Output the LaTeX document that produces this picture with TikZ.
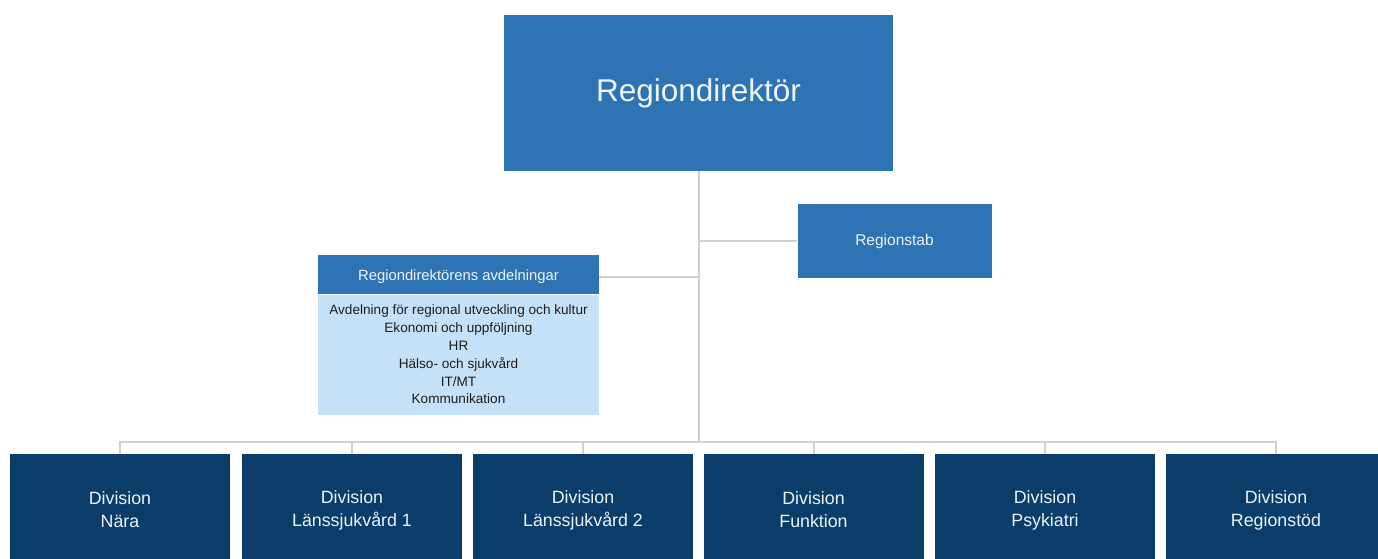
\documentclass[tikz,border=0pt]{standalone}
\usepackage{fontspec}
\setmainfont{Liberation Sans}
\definecolor{midblue}{HTML}{2E74B5}
\definecolor{lightblue}{HTML}{C5E1F7}
\definecolor{navy}{HTML}{0B3D6B}
\definecolor{linegray}{HTML}{CDD2DA}
\definecolor{darktext}{HTML}{1E1E1E}
\definecolor{softwhite}{HTML}{EEF3F8}
\tikzset{
  topbox/.style={fill=midblue, draw=none, text=softwhite, minimum width=389pt, minimum height=156pt, inner sep=0pt, font=\fontsize{31.5}{36}\selectfont},
  stabbox/.style={fill=midblue, draw=none, text=softwhite, minimum width=194pt, minimum height=74pt, inner sep=0pt, font=\fontsize{15.5}{18}\selectfont},
  hdrbox/.style={fill=midblue, draw=none, text=softwhite, minimum width=281pt, minimum height=39pt, inner sep=0pt, text height=1.2em, text depth=0.1em, font=\fontsize{14.8}{17}\selectfont},
  listbox/.style={fill=lightblue, draw=none, text=darktext, minimum width=281pt, minimum height=120pt, inner sep=0pt, align=center, font=\fontsize{13.6}{17.8}\selectfont},
  divbox/.style={fill=navy, draw=none, text=softwhite, minimum width=220pt, minimum height=112pt, inner sep=0pt, align=center, font=\fontsize{17.8}{23}\selectfont},
  conn/.style={draw=linegray, line width=2pt},
}
\begin{document}
\begin{tikzpicture}[x=1pt,y=-1pt]
\clip (0,0) rectangle (1378,558);
\fill[white] (0,0) rectangle (1378,558);

\node[topbox] (top) at (698.5,93) {Regiondirektör};
\node[stabbox] (rs) at (894.5,241) {Regionstab};
\node[hdrbox] (hdr) at (458.5,274.5) {Regiondirektörens avdelningar};
\node[listbox] (lst) at (458.5,354.5) {Avdelning för regional utveckling och kultur\\Ekonomi och uppföljning\\HR\\Hälso- och sjukvård\\IT/MT\\Kommunikation};

\node[divbox] (d1) at (120,510) {Division\\Nära};
\node[divbox] (d2) at (352,510) {Division\\Länssjukvård 1};
\node[divbox] (d3) at (583,510) {Division\\Länssjukvård 2};
\node[divbox] (d4) at (813.5,510) {Division\\Funktion};
\node[divbox] (d5) at (1045,510) {Division\\Psykiatri};
\node[divbox] (d6) at (1276,510) {Division\\Regionstöd};

\coordinate (bus) at (698.5,442);
\draw[conn] (top.south) -- (bus);
\draw[conn] (rs.west) -- (rs.west -| top.south);
\draw[conn] ([yshift=-2.5pt]hdr.east) -- ([yshift=-2.5pt]hdr.east -| top.south);
\foreach \d in {d1,d2,d3,d4,d5,d6}{
  \draw[conn] (bus) -| (\d.north);
}
\end{tikzpicture}
\end{document}
